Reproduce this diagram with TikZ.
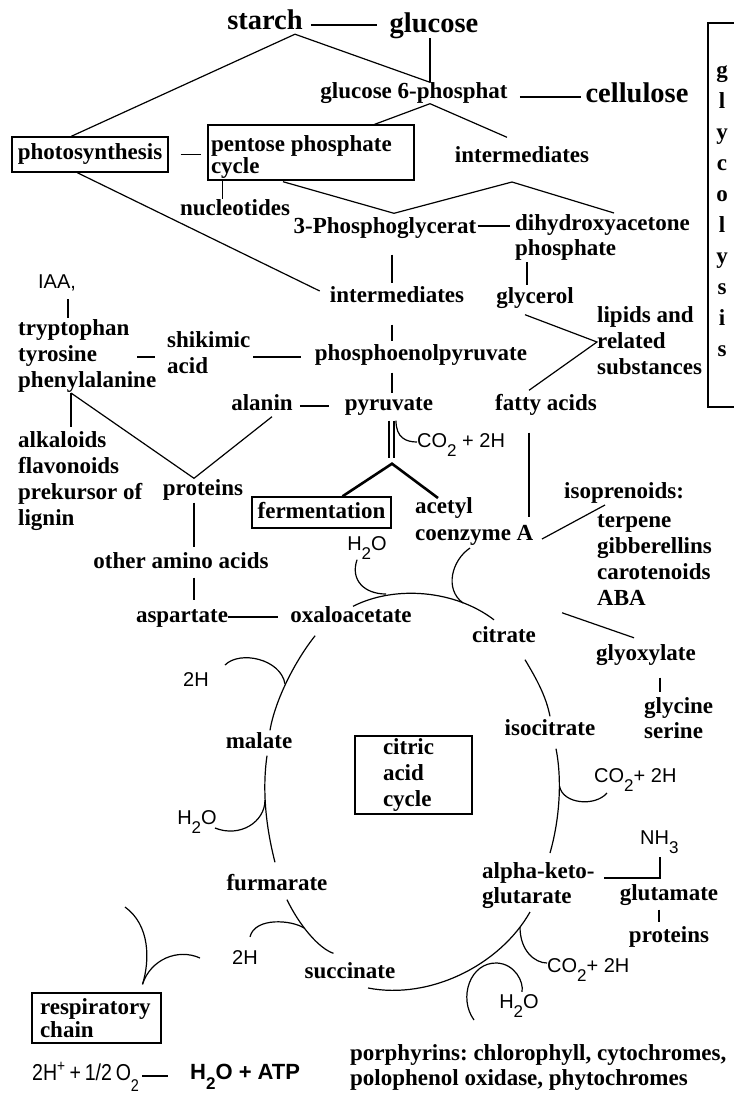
\documentclass[tikz,border=0pt]{standalone}
\usepackage{fontspec}
\setmainfont{Liberation Serif}
\newfontfamily\sansfam{Liberation Sans}
\newfontfamily\sansnarrow[FakeStretch=0.85]{Liberation Sans}
\usetikzlibrary{calc}
\frenchspacing
\newcommand\mainf{\bfseries\fontsize{23}{26}\selectfont}
\newcommand\bigf{\bfseries\fontsize{28.5}{30}\selectfont}
\newcommand\sanf{\sansfam\fontsize{20}{22}\selectfont}
\newcommand\topstr{\rule{0pt}{16pt}}
\newcommand\lowsub[1]{\raisebox{-0.45em}{\fontsize{17}{17}\selectfont #1}}
\tikzset{
  lbl/.style={inner sep=0pt, font=\mainf, text height=16pt, text depth=5pt},
  biglbl/.style={inner sep=0pt, font=\bigf, text height=20pt, text depth=6pt},
  ml/.style={inner sep=0pt, font=\mainf, align=left, anchor=north west},
  sl/.style={inner sep=0pt, font=\sanf},
  conn/.style={line width=1.2pt},
  thickconn/.style={line width=2.6pt},
  boxed/.style={draw, line width=1.4pt, inner sep=0pt},
}
\begin{document}
\begin{tikzpicture}[x=1pt,y=-1pt]
\useasboundingbox (0,0) rectangle (734,1093);
\fill[white] (0,0) rectangle (734,1093);

% ---------- nodes ----------
\node[biglbl] (starch) at (265,22) {starch};
\node[biglbl] (glucose) at (434,25) {glucose};
\node[biglbl] (cellulose) at (637,95) {cellulose};
\node[lbl] (g6p) at (414,93) {glucose 6-phosphat};
\node[boxed, minimum width=206pt, minimum height=55pt, align=flush left, text width=200pt,
      font=\bfseries\fontsize{23}{22}\selectfont] (pentose) at (311,152.5)
      {\rule{0pt}{24pt}pentose phosphate\\cycle};
\node[boxed, minimum width=156pt, minimum height=35pt, font=\mainf, text depth=5pt] (photo) at (90,154.5) {photosynthesis};
\node[lbl] (interA) at (522,157) {intermediates};
\node[lbl] (nucl) at (235,210) {nucleotides};
\node[lbl] (pga) at (385,228) {3-Phosphoglycerat};
\node[ml] (dhap) at (515,214) {\topstr dihydroxyacetone\\[-1pt]phosphate};
\node[lbl] (interB) at (397,297) {intermediates};
\node[lbl] (glycerol) at (535,298) {glycerol};
\node[ml] (lipids) at (597,306) {\topstr lipids and\\related\\substances};
\node[lbl] (pep) at (421,355) {phosphoenolpyruvate};
\node[ml] (shik) at (167,331) {\topstr shikimic\\acid};
\node[sl] (iaa) at (57,283) {IAA,};
\node[ml] (arom) at (18,319) {\topstr tryptophan\\tyrosine\\phenylalanine};
\node[ml] (alk) at (18,431) {\topstr alkaloids\\flavonoids\\prekursor of\\lignin};
\node[lbl] (alanin) at (262,405) {alanin};
\node[lbl] (pyr) at (389,405) {pyruvate};
\node[lbl] (fatty) at (546,405) {fatty acids};
\node[sl, anchor=west] (co2a) at (417,445) {CO\lowsub{2} + 2H};
\node[boxed, minimum width=139pt, minimum height=31pt, font=\mainf, text depth=5pt] (ferm) at (321.5,512.5) {fermentation};
\node[ml] (acetyl) at (415,497) {\topstr acetyl\\[1pt]coenzyme A};
\node[lbl] (prot1) at (203,490) {proteins};
\node[lbl, anchor=west] (isopr) at (564,493) {isoprenoids:};
\node[ml] (terp) at (597,511) {\topstr terpene\\gibberellins\\carotenoids\\ABA};
\node[lbl] (otheraa) at (181,563) {other amino acids};
\node[lbl] (asp) at (182,617) {aspartate};
\node[lbl] (oxa) at (351,617) {oxaloacetate};
\node[sl] (h2oA) at (367,548) {H\lowsub{2}O};
\node[lbl] (citrate) at (504,637) {citrate};
\node[lbl] (glyox) at (646,655) {glyoxylate};
\node[ml] (glycine) at (644,697) {\topstr glycine\\[-1pt]serine};
\node[sl] (twoHa) at (196,680) {2H};
\node[lbl] (malate) at (259,743) {malate};
\node[lbl] (isocit) at (550,730) {isocitrate};
\node[boxed, minimum width=117pt, minimum height=78pt, align=flush left, text width=61pt, font=\mainf] (cac) at (413.5,775) {citric\\acid\\cycle};
\node[sl, anchor=west] (co2b) at (594,780) {CO\lowsub{2}+ 2H};
\node[sl] (h2oB) at (197,822) {H\lowsub{2}O};
\node[sl, anchor=west] (nh3) at (640,842) {NH\lowsub{3}};
\node[ml] (akg) at (482,862) {\topstr alpha-keto-\\[-1pt]glutarate};
\node[lbl] (furm) at (277,885) {furmarate};
\node[lbl] (glut) at (669,895) {glutamate};
\node[lbl] (prot2) at (669,937) {proteins};
\node[sl] (twoHb) at (245,958) {2H};
\node[lbl] (succ) at (350,973) {succinate};
\node[sl, anchor=west] (co2c) at (547,970) {CO\lowsub{2}+ 2H};
\node[sl] (h2oC) at (519,1006) {H\lowsub{2}O};
\node[boxed, minimum width=129pt, minimum height=50pt, align=flush left, text width=113pt,
      font=\bfseries\fontsize{23}{23}\selectfont] (resp) at (96.5,1018) {respiratory\\chain};
\node[sl, anchor=west, font=\sansnarrow\fontsize{23}{23}\selectfont] (eqL) at (32,1077) {2H\textsuperscript{+}\,+\,1/2\,O\lowsub{2}};
\node[sl, anchor=west, font=\sansfam\bfseries\fontsize{22}{22}\selectfont] (eqR) at (190,1077) {H\lowsub{2}O + ATP};
\node[ml] (porph) at (350,1044) {\topstr porphyrins: chlorophyll, cytochromes,\\[-1pt]polophenol oxidase, phytochromes};

% glycolysis column
\node[inner sep=0pt, font=\bfseries\fontsize{23}{31}\selectfont, align=center, anchor=north] (glyco) at (722,61)
  {\topstr g\\l\\y\\c\\o\\l\\y\\s\\i\\s};
\draw[line width=1.4pt] (734,23) -- (708,23) -- (708,407) -- (734,407);

% ---------- straight connectors ----------
\draw[conn] ($(starch.east)+(8,3)$) -- ($(glucose.west)+(-12,0)$);
\coordinate (g6T) at ($(g6p.north)+(16,0)$);
\coordinate (stB) at ($(starch.south)+(30,-1)$);
\draw[conn] (g6T |- glucose.south) -- (g6T);
\draw[conn] ($(photo.north west)+(60,0)$) -- (stB) -- (g6T);
\draw[conn] ($(g6p.east)+(12,4)$) -- ($(cellulose.west)+(-4,2)$);
\coordinate (g6B) at ($(g6p.south)+(16,0)$);
\draw[conn] ($(pentose.north east)+(-40,0)$) -- (g6B) -- ($(interA.north)+(-15,-9)$);
\draw[conn] ($(photo.east)+(12,0)$) -- ($(photo.east -| pentose.west)+(-6,0)$);
\coordinate (pgaT) at ($(pga.north)+(9,-4)$);
\coordinate (zz) at (512,182);
\draw[conn] ($(pentose.south)+(-28,1)$) -- (pgaT) -- (zz) -- ($(dhap.north west)+(99,-1)$);
\coordinate (nuT) at ($(pentose.south west)+(15,0)$);
\draw[conn] (nuT) -- (nuT |- nucl.north);
\draw[conn] ($(pga.east)+(1,-2)$) -- ($(dhap.north west)+(-5,12)$);
\draw[conn] ($(pga.south)+(7,16)$) -- ($(interB.north)+(-5,-3)$);
\draw[conn] ($(dhap.north west)+(12,48)$) -- ($(glycerol.north)+(-8,-2)$);
\draw[conn] ($(photo.south west)+(66,0)$) -- ($(interB.west)+(-10,-6)$);
\draw[conn] ($(interB.south)+(-5,17)$) -- ($(pep.north)+(-29,-3)$);
\draw[conn] ($(pep.south)+(-29,7)$) -- ($(pyr.north)+(3,-1)$);
\draw[conn] ($(shik.north east)+(3,26)$) -- ($(pep.west)+(-14,2)$);
\draw[conn] ($(arom.north west)+(119,38)$) -- ($(shik.north west)+(-12,26)$);
\draw[conn] ($(iaa.south)+(11,8)$) -- ($(arom.north west)+(50,-1)$);
\coordinate (pheB) at ($(arom.north west)+(53,74)$);
\draw[conn] (pheB) -- ($(alk.north west)+(53,-4)$);
\coordinate (protT) at ($(prot1.north)+(-9,-1)$);
\draw[conn] (pheB) -- (protT) -- ($(alanin.south)+(10,1)$);
\draw[conn] ($(alanin.east)+(7,1)$) -- ($(pyr.west)+(-16,1)$);
\coordinate (lipV) at ($(lipids.north west)+(0,36)$);
\draw[conn] ($(glycerol.south)+(-10,6)$) -- (lipV) -- ($(fatty.north)+(-17,-4)$);
\draw[conn] ($(pyr.south)+(0,5)$) -- ++(0,37);
\draw[conn] ($(pyr.south)+(5,5)$) -- ++(0,37);
\draw[conn] ($(pyr.south)+(7,5)$) .. controls +(0,17) and +(-11,0) .. ($(co2a.west)+(0,-3)$);
\coordinate (fApex) at ($(pyr.south)+(3,48)$);
\draw[thickconn] ($(ferm.north)+(21,0)$) -- (fApex) -- ($(acetyl.north west)+(23,1)$);
\draw[conn] ($(prot1.south)+(-9,2)$) -- ($(otheraa.north)+(13,-5)$);
\draw[conn] ($(otheraa.south)+(13,4)$) -- ($(asp.north)+(12,-6)$);
\draw[conn] (asp.east) -- ($(oxa.west)+(-12,0)$);
\draw[conn] ($(fatty.south)+(-17,17)$) -- ($(acetyl.north west)+(114,20)$);
\draw[conn] ($(acetyl.north west)+(127,42)$) -- ($(isopr.west)+(41,12)$);
\draw[conn] ($(citrate.north east)+(26,-13.5)$) -- ($(glyox.north)+(-12,-6.5)$);
\draw[conn] ($(glyox.south)+(14,12)$) -- ($(glycine.north west)+(16,-5)$);
\draw[conn] ($(akg.north west)+(122,16)$) -| ($(nh3.south west)+(20,3)$);
\draw[conn] ($(glut.south)+(-10,4)$) -- ($(prot2.north)+(-10,-4)$);

% ---------- citric acid cycle arcs ----------
\draw[conn] ($(oxa.north)+(2,0)$) .. controls (395,585) and (455,590) .. ($(citrate.north)+(-10,-6.5)$);
\coordinate (arcA) at (386,594);
\draw[conn] ($(h2oA.south west)+(10,0)$) .. controls +(-7,20) and +(-22,0) .. (arcA);
\coordinate (arcC) at (463,603);
\draw[conn] ($(acetyl.north west)+(55,51)$) .. controls +(-18,12) and +(-19,-14) .. (arcC);
\draw[conn] ($(citrate.south)+(21,12)$) .. controls +(12,20) and +(-4,-20) .. ($(isocit.north)+(0,-3)$);
\draw[conn] ($(isocit.south)+(6,8)$) .. controls +(6,30) and +(10,-35) .. ($(akg.north west)+(68,-9)$);
\coordinate (arcI) at (559.5,786);
\draw[conn] (arcI) .. controls +(3,18) and +(-12,14) .. ($(co2b.west)+(13,13)$);
\draw[conn] ($(akg.north west)+(48,50)$) .. controls (500,965) and (430,1000) .. ($(succ.east)+(-27.5,15)$);
\coordinate (arcK) at (520,927);
\draw[conn] (arcK) .. controls +(0,24) and +(-12,0) .. ($(co2c.west)+(0,-7)$);
\coordinate (h2oCs) at (474,1020);
\draw[conn] (h2oCs) .. controls (458,998) and (470,962) .. (497,963) .. controls (515,964) and (524,982) .. ($(h2oC.north)+(3,-2.5)$);
\draw[conn] ($(oxa.south west)+(25,8)$) .. controls +(-20,25) and +(5,-30) .. ($(malate.north)+(11,-2)$);
\coordinate (arcM) at (285,684);
\draw[conn] ($(twoHa.east)+(16,-15)$) .. controls +(15,-15) and +(-4,-25) .. (arcM);
\draw[conn] ($(malate.south)+(8,2)$) .. controls +(-5,35) and +(-9,-35) .. ($(furm.north)+(-2,-12)$);
\coordinate (arcF) at (265,800);
\draw[conn] ($(h2oB.east)+(-2,6)$) .. controls +(25,10) and +(0,22) .. (arcF);
\draw[conn] ($(furm.south)+(10,4)$) .. controls +(12,25) and +(-15,-5) .. ($(succ.north west)+(29,-9)$);
\coordinate (arcS) at (304,928);
\draw[conn] ($(twoHb.north)+(5,-14)$) .. controls +(5,-20) and +(-12,-8) .. (arcS);

% respiratory chain curves
\coordinate (rcA) at (125,907);
\coordinate (rcB) at ($(resp.north)+(46,-8)$);
\coordinate (rcC) at (200,958);
\draw[conn] (rcA) .. controls (150,925) and (150,960) .. (rcB);
\draw[conn] (rcB) .. controls +(8,-25) and +(-22,-10) .. (rcC);

% equation dash
\draw[line width=1.3pt] ($(eqL.east)+(3,-1)$) -- ($(eqR.west)+(-22,-1)$);
\end{tikzpicture}
\end{document}
